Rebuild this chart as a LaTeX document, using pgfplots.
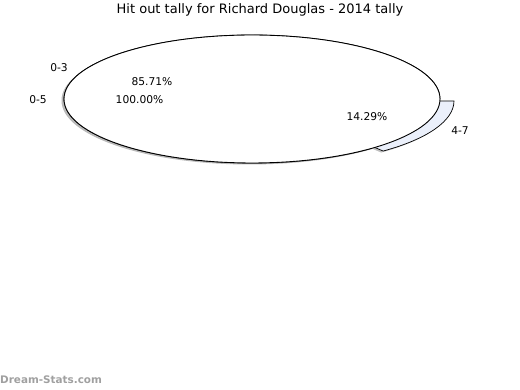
\documentclass[border=0pt]{standalone}
\usepackage{pgfplots}
\usepackage{pgfplotstable}
\pgfplotsset{compat=1.18}
\usepackage{fontspec}
\setmainfont{DejaVu Sans}
\definecolor{slicefill}{HTML}{EBF0FB}
\definecolor{wm}{HTML}{A0A0A0}

\pgfplotstableread{
label pct
0-3 85.71
4-7 14.29
}\slicedata
\pgfplotstableread{
label pct
0-5 100.00
}\fulldata

\begin{document}
\begin{tikzpicture}
\pgfplotstablegetelem{1}{pct}\of\slicedata
\pgfmathsetmacro{\angB}{-3.6*\pgfplotsretval}
\begin{axis}[
  scale only axis, width=520pt, height=390pt,
  xmin=0, xmax=520, ymin=0, ymax=390,
  hide axis, clip=false]
\path (axis cs:0,0) rectangle (axis cs:520,390);
% shadows
\fill[gray!55] (axis cs:249.5,289.5) ellipse [x radius=188, y radius=64];
\fill[gray!50] (axis cs:264,287.5) -- (axis cs:452,287.5)
   arc[start angle=0, end angle=\angB, x radius=188pt, y radius=64pt] -- cycle;
% 4-7 exploded slice
\filldraw[fill=slicefill, draw=black, line width=0.7pt] (axis cs:266,289) -- (axis cs:454,289)
   arc[start angle=0, end angle=\angB, x radius=188pt, y radius=64pt] -- cycle;
% 0-3 slice
\filldraw[fill=white, draw=black, line width=0.7pt] (axis cs:252,291) -- ++(\angB:188pt and 64pt)
   arc[start angle=\angB, end angle=-360, x radius=188pt, y radius=64pt] -- cycle;
% 0-5 full
\filldraw[fill=white, draw=black, line width=0.9pt] (axis cs:252,291) ellipse [x radius=188, y radius=64];
% labels
\node[font=\fontsize{10.7}{12}\selectfont] at (axis cs:59,322.5) {0-3};
\node[font=\fontsize{10.7}{12}\selectfont] at (axis cs:152,308.5) {85.71\%};
\node[font=\fontsize{10.7}{12}\selectfont] at (axis cs:38,290.5) {0-5};
\node[font=\fontsize{10.7}{12}\selectfont] at (axis cs:139.5,290.5) {100.00\%};
\node[font=\fontsize{10.7}{12}\selectfont] at (axis cs:367,273.5) {14.29\%};
\node[font=\fontsize{10.7}{12}\selectfont] at (axis cs:460,259.5) {4-7};
\node[font=\fontsize{13}{15}\selectfont] at (axis cs:260,380) {Hit out tally for Richard Douglas - 2014 tally};
\node[anchor=west, inner sep=0pt, text=wm, font=\bfseries\fontsize{10.4}{12}\selectfont] at (axis cs:0,10) {Dream-Stats.com};
\end{axis}
\end{tikzpicture}
\end{document}
